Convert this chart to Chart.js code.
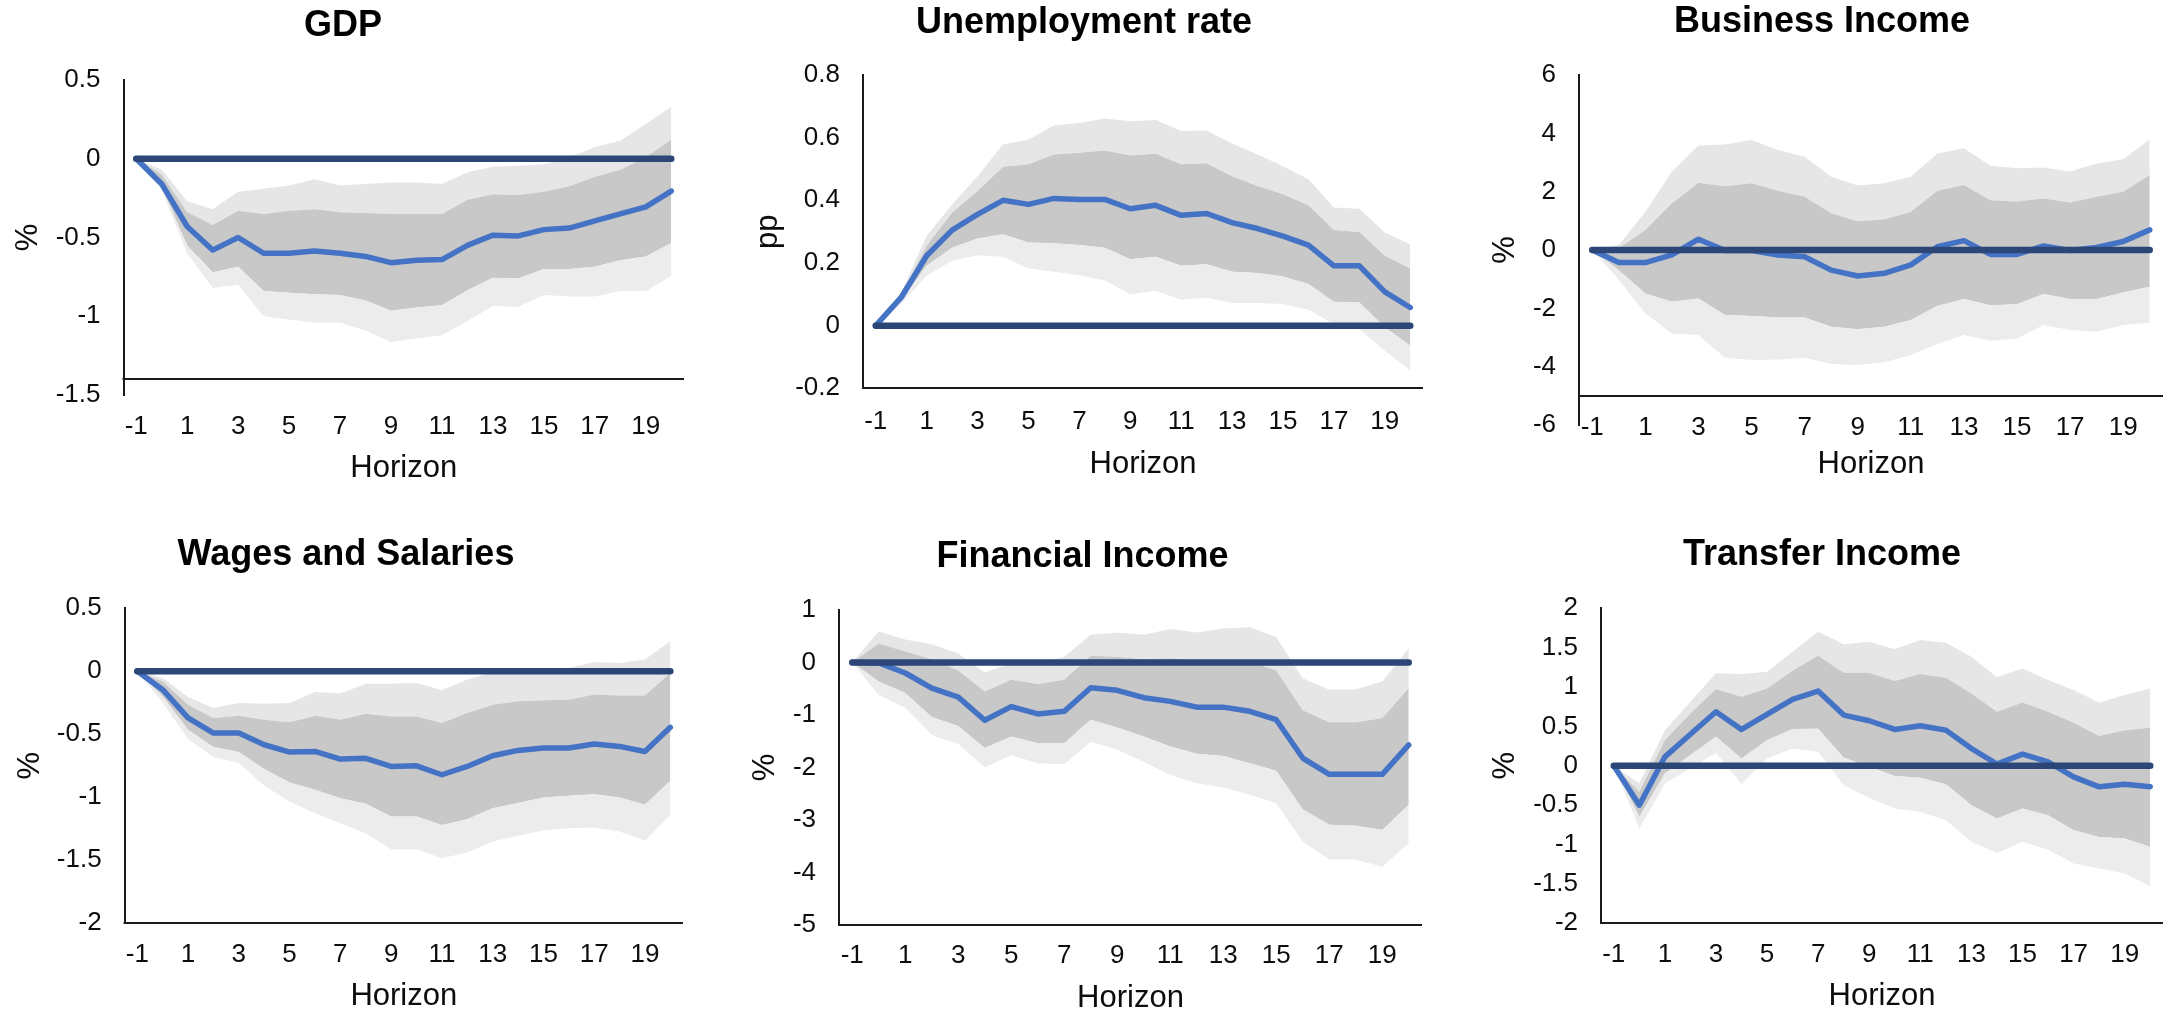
<!DOCTYPE html>
<html>
<head>
<meta charset="utf-8">
<script src="https://cdn.jsdelivr.net/npm/chart.js@4.4.1/dist/chart.umd.min.js"></script>
<style>
  html, body { margin: 0; padding: 0; background: #ffffff; }
  body { width: 2172px; height: 1014px; position: relative; overflow: hidden; }
  .panel { position: absolute; }
  .panel canvas { display: block; }
</style>
</head>
<body>
<script>
// Horizon (quarters after the shock) and the labels shown on the axis
const horizons = [-1, 0, 1, 2, 3, 4, 5, 6, 7, 8, 9, 10, 11, 12, 13, 14, 15, 16, 17, 18, 19, 20];
const shownTicks = [-1, 1, 3, 5, 7, 9, 11, 13, 15, 17, 19];
const zeroLine = [0, 0, 0, 0, 0, 0, 0, 0, 0, 0, 0, 0, 0, 0, 0, 0, 0, 0, 0, 0, 0, 0];

// GDP (%)
const gdpMean = [0, -0.16, -0.43, -0.58, -0.50, -0.60, -0.60, -0.585, -0.60, -0.62, -0.66, -0.645, -0.64, -0.55, -0.485, -0.49, -0.45, -0.44, -0.395, -0.35, -0.305, -0.205];
const gdpHi90 = [0, -0.07, -0.27, -0.32, -0.21, -0.19, -0.17, -0.13, -0.17, -0.16, -0.15, -0.15, -0.16, -0.085, -0.05, -0.045, -0.035, 0.01, 0.075, 0.115, 0.22, 0.33];
const gdpHi68 = [0, -0.10, -0.34, -0.42, -0.33, -0.35, -0.33, -0.32, -0.34, -0.345, -0.35, -0.35, -0.35, -0.26, -0.225, -0.23, -0.21, -0.175, -0.115, -0.07, 0.01, 0.12];
const gdpLo68 = [0, -0.18, -0.55, -0.72, -0.685, -0.84, -0.85, -0.86, -0.865, -0.90, -0.965, -0.945, -0.93, -0.835, -0.755, -0.76, -0.70, -0.70, -0.685, -0.645, -0.62, -0.535];
const gdpLo90 = [0, -0.20, -0.60, -0.82, -0.80, -1.00, -1.02, -1.04, -1.04, -1.09, -1.165, -1.14, -1.12, -1.03, -0.935, -0.94, -0.865, -0.875, -0.875, -0.84, -0.84, -0.745];

// Unemployment rate (pp)
const unempMean = [0, 0.09, 0.223, 0.305, 0.355, 0.40, 0.387, 0.406, 0.403, 0.403, 0.373, 0.384, 0.352, 0.358, 0.329, 0.31, 0.286, 0.257, 0.191, 0.191, 0.108, 0.058];
const unempHi90 = [0, 0.106, 0.286, 0.387, 0.477, 0.578, 0.594, 0.639, 0.647, 0.661, 0.652, 0.656, 0.621, 0.623, 0.581, 0.546, 0.509, 0.467, 0.377, 0.373, 0.297, 0.26];
const unempHi68 = [0, 0.098, 0.255, 0.36, 0.43, 0.507, 0.515, 0.546, 0.552, 0.559, 0.543, 0.549, 0.515, 0.518, 0.477, 0.446, 0.419, 0.384, 0.305, 0.299, 0.223, 0.182];
const unempLo68 = [0, 0.08, 0.191, 0.249, 0.278, 0.292, 0.265, 0.263, 0.257, 0.249, 0.212, 0.22, 0.191, 0.196, 0.172, 0.168, 0.157, 0.133, 0.076, 0.074, -0.005, -0.064];
const unempLo90 = [0, 0.069, 0.159, 0.207, 0.225, 0.22, 0.182, 0.172, 0.161, 0.145, 0.10, 0.111, 0.083, 0.09, 0.072, 0.072, 0.069, 0.051, 0.005, -0.011, -0.08, -0.143];

// Business income (%)
const bizMean = [0, -0.43, -0.43, -0.17, 0.37, -0.02, -0.02, -0.17, -0.23, -0.69, -0.89, -0.80, -0.51, 0.11, 0.32, -0.15, -0.15, 0.14, -0.02, 0.09, 0.29, 0.69];
const bizHi90 = [0, 0.17, 1.31, 2.69, 3.58, 3.62, 3.77, 3.43, 3.20, 2.51, 2.21, 2.29, 2.51, 3.31, 3.49, 2.89, 2.80, 2.83, 2.69, 2.97, 3.11, 3.79];
const bizHi68 = [0, 0.06, 0.69, 1.60, 2.31, 2.19, 2.29, 2.03, 1.83, 1.26, 0.99, 1.05, 1.31, 2.03, 2.23, 1.71, 1.66, 1.77, 1.63, 1.83, 2.00, 2.57];
const bizLo68 = [0, -0.69, -1.49, -1.77, -1.66, -2.23, -2.26, -2.31, -2.31, -2.63, -2.72, -2.63, -2.40, -1.92, -1.68, -1.89, -1.86, -1.51, -1.68, -1.68, -1.46, -1.26];
const bizLo90 = [0, -1.03, -2.17, -2.86, -2.91, -3.69, -3.77, -3.75, -3.69, -3.91, -3.94, -3.85, -3.60, -3.22, -2.91, -3.11, -3.03, -2.57, -2.74, -2.80, -2.57, -2.49];

// Wages and salaries (%)
const wageMean = [0, -0.146, -0.37, -0.49, -0.49, -0.583, -0.641, -0.636, -0.697, -0.691, -0.755, -0.75, -0.821, -0.755, -0.67, -0.628, -0.609, -0.609, -0.577, -0.596, -0.636, -0.445];
const wageHi90 = [0, -0.053, -0.204, -0.291, -0.252, -0.257, -0.252, -0.164, -0.177, -0.098, -0.098, -0.093, -0.151, -0.066, -0.008, 0.013, 0.021, 0.026, 0.074, 0.066, 0.093, 0.238];
const wageHi68 = [0, -0.08, -0.265, -0.371, -0.352, -0.384, -0.405, -0.352, -0.384, -0.336, -0.358, -0.358, -0.411, -0.331, -0.265, -0.238, -0.23, -0.225, -0.185, -0.193, -0.193, -0.013];
const wageLo68 = [0, -0.20, -0.464, -0.601, -0.641, -0.776, -0.882, -0.94, -1.007, -1.052, -1.152, -1.152, -1.219, -1.174, -1.086, -1.046, -1.001, -0.988, -0.975, -1.001, -1.06, -0.869];
const wageLo90 = [0, -0.25, -0.538, -0.681, -0.728, -0.909, -1.033, -1.126, -1.205, -1.285, -1.412, -1.412, -1.483, -1.438, -1.351, -1.306, -1.264, -1.245, -1.24, -1.272, -1.343, -1.139];

// Financial income (%)
const finMean = [0, -0.01, -0.20, -0.49, -0.66, -1.10, -0.84, -0.98, -0.93, -0.48, -0.53, -0.67, -0.74, -0.85, -0.85, -0.93, -1.09, -1.82, -2.13, -2.13, -2.13, -1.57];
const finHi90 = [0, 0.59, 0.44, 0.35, 0.17, -0.19, -0.01, -0.01, 0.11, 0.53, 0.57, 0.53, 0.64, 0.57, 0.65, 0.67, 0.48, -0.30, -0.52, -0.51, -0.36, 0.27];
const finHi68 = [0, 0.36, 0.21, 0.06, -0.15, -0.55, -0.33, -0.41, -0.33, 0.13, 0.11, 0.06, 0.08, 0.04, 0.05, 0.02, -0.15, -0.91, -1.14, -1.14, -1.06, -0.48];
const finLo68 = [0, -0.36, -0.58, -1.04, -1.21, -1.63, -1.41, -1.54, -1.54, -1.09, -1.24, -1.41, -1.60, -1.74, -1.78, -1.92, -2.06, -2.80, -3.09, -3.11, -3.19, -2.71];
const finLo90 = [0, -0.62, -0.86, -1.38, -1.55, -2.00, -1.76, -1.92, -1.94, -1.51, -1.66, -1.89, -2.14, -2.30, -2.38, -2.52, -2.68, -3.41, -3.75, -3.75, -3.89, -3.44];

// Transfer income (%)
const trMean = [0, -0.50, 0.114, 0.40, 0.686, 0.462, 0.653, 0.843, 0.949, 0.644, 0.572, 0.462, 0.508, 0.453, 0.22, 0.021, 0.148, 0.051, -0.14, -0.267, -0.233, -0.267];
const trHi90 = [0, -0.22, 0.453, 0.814, 1.174, 1.165, 1.195, 1.449, 1.703, 1.542, 1.576, 1.479, 1.597, 1.564, 1.386, 1.123, 1.237, 1.089, 0.962, 0.801, 0.898, 0.983];
const trHi68 = [0, -0.33, 0.326, 0.665, 0.975, 0.877, 0.983, 1.208, 1.398, 1.182, 1.182, 1.076, 1.165, 1.119, 0.919, 0.686, 0.805, 0.686, 0.547, 0.377, 0.453, 0.483];
const trLo68 = [0, -0.65, -0.097, 0.136, 0.369, 0.093, 0.326, 0.466, 0.47, 0.102, -0.013, -0.131, -0.153, -0.233, -0.50, -0.669, -0.542, -0.627, -0.818, -0.903, -0.924, -1.03];
const trLo90 = [0, -0.80, -0.225, -0.034, 0.165, -0.233, 0.093, 0.22, 0.178, -0.246, -0.407, -0.542, -0.585, -0.691, -0.966, -1.106, -0.966, -1.064, -1.242, -1.305, -1.369, -1.53];

// Series and value axis of each panel
const series = [
  { title: 'GDP', unit: '%', mean: gdpMean, hi90: gdpHi90, hi68: gdpHi68, lo68: gdpLo68, lo90: gdpLo90, yMin: -1.5, yMax: 0.5, yStep: 0.5, crossAt: -1.4 },
  { title: 'Unemployment rate', unit: 'pp', mean: unempMean, hi90: unempHi90, hi68: unempHi68, lo68: unempLo68, lo90: unempLo90, yMin: -0.2, yMax: 0.8, yStep: 0.2, crossAt: -0.2 },
  { title: 'Business Income', unit: '%', mean: bizMean, hi90: bizHi90, hi68: bizHi68, lo68: bizLo68, lo90: bizLo90, yMin: -6, yMax: 6, yStep: 2, crossAt: -5 },
  { title: 'Wages and Salaries', unit: '%', mean: wageMean, hi90: wageHi90, hi68: wageHi68, lo68: wageLo68, lo90: wageLo90, yMin: -2, yMax: 0.5, yStep: 0.5, crossAt: -2 },
  { title: 'Financial Income', unit: '%', mean: finMean, hi90: finHi90, hi68: finHi68, lo68: finLo68, lo90: finLo90, yMin: -5, yMax: 1, yStep: 1, crossAt: -5 },
  { title: 'Transfer Income', unit: '%', mean: trMean, hi90: trHi90, hi68: trHi68, lo68: trLo68, lo90: trLo90, yMin: -2, yMax: 2, yStep: 0.5, crossAt: -2 }
];

// Placement of each panel on the page
const layouts = [
  { box: [0, 0, 724, 500], padL: 2, padR: 40, yWidth: 121.5, yTitlePad: 10.5, titleTop: 6.5, titleBottom: 33.9, xHeight: 105, xTickPad: 16.4, xMirror: false, xTitlePad: 16.5 },
  { box: [724, 0, 724, 500], padL: 21, padR: 25, yWidth: 118, yTitlePad: 7.5, titleTop: 3.5, titleBottom: 31.9, xHeight: 111.7, xTickPad: 17.8, xMirror: false, xTitlePad: 20.5 },
  { box: [1448, 0, 724, 500], padL: 33, padR: 9, yWidth: 98, yTitlePad: 8.5, titleTop: 2.6, titleBottom: 32.8, xHeight: 75, xTickPad: -18.9, xMirror: true, xTitlePad: 20.5 },
  { box: [0, 500, 724, 514], padL: 9, padR: 41, yWidth: 115.6, yTitlePad: 5.5, titleTop: 35.2, titleBottom: 33.5, xHeight: 90.7, xTickPad: 16.1, xMirror: false, xTitlePad: 1.8 },
  { box: [724, 500, 724, 514], padL: 19, padR: 26, yWidth: 96, yTitlePad: 6.5, titleTop: 36.9, titleBottom: 33.5, xHeight: 89, xTickPad: 15.4, xMirror: false, xTitlePad: 0.2 },
  { box: [1448, 500, 724, 514], padL: 33, padR: 9, yWidth: 120, yTitlePad: 8.5, titleTop: 35.2, titleBottom: 33.5, xHeight: 90.7, xTickPad: 16.1, xMirror: false, xTitlePad: 1.8 }
];

const FONT = '"Liberation Sans", Arial, Helvetica, sans-serif';
const TEXT = '#0d0d0d';
const AXIS = '#1a1a1a';
const MEAN_BLUE = '#4472c4';
const ZERO_NAVY = '#2b4677';
const BAND_OUTER_UP = '#e6e6e6';
const BAND_INNER = '#c8c8c8';
const BAND_OUTER_LO = '#ececec';

// Horizontal axis line drawn where the category axis crosses the value axis
const crossLine = {
  id: 'crossLine',
  afterDatasetsDraw(chart, args, opts) {
    const { ctx, chartArea } = chart;
    const y = Math.round(chart.scales.y.getPixelForValue(opts.value));
    ctx.save();
    ctx.strokeStyle = AXIS;
    ctx.lineWidth = 2;
    ctx.beginPath();
    ctx.moveTo(chartArea.left - 1, y);
    ctx.lineTo(chartArea.right, y);
    ctx.stroke();
    ctx.restore();
  }
};

function fmt(v) {
  return String(Number(v.toFixed(2)));
}

series.forEach((s, i) => {
  const L = layouts[i];
  const div = document.createElement('div');
  div.className = 'panel';
  div.style.left = L.box[0] + 'px';
  div.style.top = L.box[1] + 'px';
  div.style.width = L.box[2] + 'px';
  div.style.height = L.box[3] + 'px';
  const canvas = document.createElement('canvas');
  div.appendChild(canvas);
  document.body.appendChild(div);

  const band = (data, color, order) => ({
    data, fill: color ? '+1' : false, backgroundColor: color || 'transparent',
    borderWidth: 0, pointRadius: 0, tension: 0, order
  });

  new Chart(canvas, {
    type: 'line',
    data: {
      labels: horizons,
      datasets: [
        band(s.hi90, BAND_OUTER_UP, 5),
        band(s.hi68, BAND_INNER, 4),
        band(s.lo68, BAND_OUTER_LO, 3),
        band(s.lo90, null, 2),
        { data: s.mean, borderColor: MEAN_BLUE, borderWidth: 5.5, pointRadius: 0, tension: 0,
          fill: false, borderJoinStyle: 'round', borderCapStyle: 'round', order: 1 },
        { data: zeroLine, borderColor: ZERO_NAVY, borderWidth: 6.5, pointRadius: 0, tension: 0,
          fill: false, borderCapStyle: 'round', order: 0 }
      ]
    },
    options: {
      responsive: true,
      maintainAspectRatio: false,
      animation: false,
      events: [],
      layout: { padding: { left: L.padL, right: L.padR, top: 0, bottom: 0 } },
      plugins: {
        legend: { display: false },
        tooltip: { enabled: false },
        title: {
          display: true, text: s.title, color: '#000',
          font: { family: FONT, size: 36, weight: 'bold', lineHeight: 1.1 },
          padding: { top: L.titleTop, bottom: L.titleBottom }
        },
        crossLine: { value: s.crossAt }
      },
      scales: {
        x: {
          type: 'category',
          offset: true,
          grid: { display: false, drawTicks: false },
          border: { display: false },
          ticks: {
            autoSkip: false, maxRotation: 0, minRotation: 0,
            mirror: L.xMirror,
            padding: L.xTickPad, color: TEXT,
            font: { family: FONT, size: 26, lineHeight: 1.2 },
            callback(value, index) {
              const h = horizons[index];
              return shownTicks.includes(h) ? String(h) : '';
            }
          },
          title: {
            display: true, text: 'Horizon', color: TEXT,
            font: { family: FONT, size: 31, lineHeight: 1 },
            padding: { top: 0, bottom: L.xTitlePad }
          },
          afterFit(scale) {
            scale.height = L.xHeight;
            scale.paddingLeft = 0;
            scale.paddingRight = 0;
          }
        },
        y: {
          min: s.yMin, max: s.yMax,
          grid: { display: false, drawTicks: false },
          border: { display: true, color: AXIS, width: 2 },
          ticks: {
            stepSize: s.yStep, padding: 23, color: TEXT,
            font: { family: FONT, size: 26, lineHeight: 1.2 },
            callback: (v) => fmt(v)
          },
          title: {
            display: true, text: s.unit, color: TEXT,
            font: { family: FONT, size: 31, lineHeight: 1 },
            padding: { top: L.yTitlePad, bottom: 0 }
          },
          afterFit(scale) {
            scale.width = L.yWidth;
            scale.paddingTop = 0;
            scale.paddingBottom = 0;
          }
        }
      }
    },
    plugins: [crossLine]
  });
});
</script>
</body>
</html>
